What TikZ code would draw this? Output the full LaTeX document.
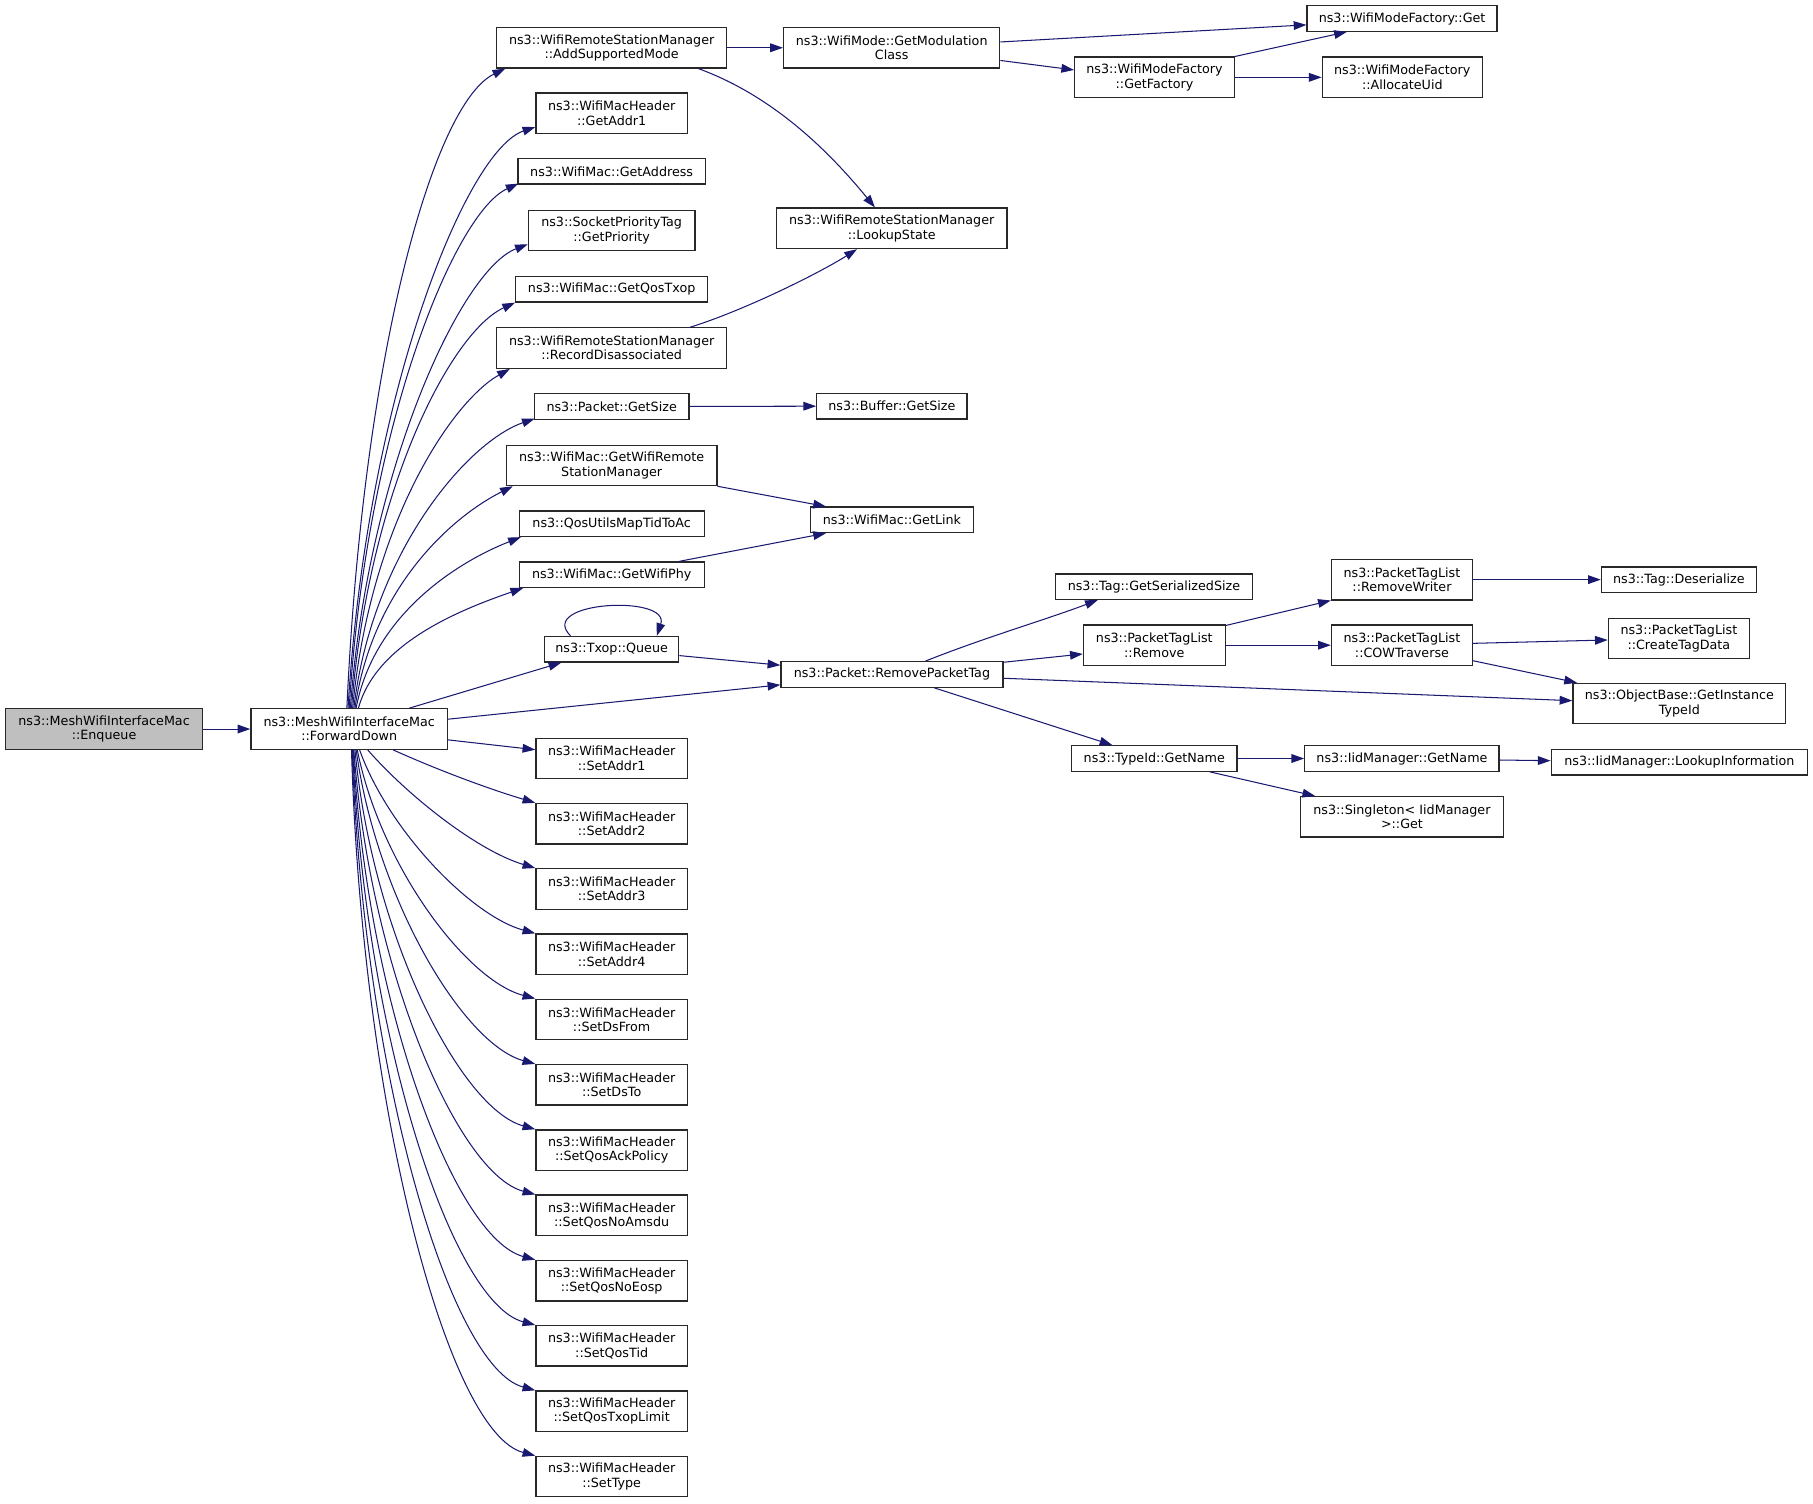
\documentclass[tikz,border=0pt]{standalone}
\usepackage{fontspec}
\setmainfont{DejaVu Sans}
\usetikzlibrary{arrows.meta,calc}
\definecolor{edgec}{RGB}{25,25,112}
\definecolor{nodeb}{RGB}{40,40,40}
\definecolor{nodeg}{RGB}{191,191,191}
\begin{document}
\begin{tikzpicture}[x=1pt,y=-1pt,
  fn/.style={draw=nodeb, line width=1.1pt, fill=white, inner sep=0pt, align=center,
    font=\fontsize{11}{12.4}\selectfont},
  one/.style={fn, minimum height=22pt},
  two/.style={fn, minimum height=35pt},
  e/.style={draw=edgec, line width=0.9pt, -{Triangle[length=11pt,width=7.5pt]}},
]
\useasboundingbox (0,0) rectangle (1568,1300);
% column A/B
\node[two, minimum width=170pt, fill=nodeg] (enq) at (90,630.5) {ns3::MeshWifiInterfaceMac\\::Enqueue};
\node[two, minimum width=170pt] (fwd) at (302,630.5) {ns3::MeshWifiInterfaceMac\\::ForwardDown};
% column C
\node[two, minimum width=199pt] (asm) at (529,41.3) {ns3::WifiRemoteStationManager\\::AddSupportedMode};
\node[two, minimum width=131pt] (ga1) at (529,97.9) {ns3::WifiMacHeader\\::GetAddr1};
\node[one, minimum width=162pt] (gad) at (529,148.2) {ns3::WifiMac::GetAddress};
\node[two, minimum width=144pt] (gpr) at (529,199.3) {ns3::SocketPriorityTag\\::GetPriority};
\node[one, minimum width=166pt] (gqt) at (529,250.2) {ns3::WifiMac::GetQosTxop};
\node[two, minimum width=199pt] (rda) at (529,301) {ns3::WifiRemoteStationManager\\::RecordDisassociated};
\node[one, minimum width=134pt] (pgs) at (529,351.5) {ns3::Packet::GetSize};
\node[two, minimum width=182pt] (gwr) at (529,402.5) {ns3::WifiMac::GetWifiRemote\\StationManager};
\node[one, minimum width=160pt] (qum) at (529,453) {ns3::QosUtilsMapTidToAc};
\node[one, minimum width=160pt] (gwp) at (529,497) {ns3::WifiMac::GetWifiPhy};
\node[one, minimum width=116pt] (txq) at (529,561.5) {ns3::Txop::Queue};
\node[two, minimum width=131pt] (sa1) at (529,655.9) {ns3::WifiMacHeader\\::SetAddr1};
\node[two, minimum width=131pt] (sa2) at (529,712.4) {ns3::WifiMacHeader\\::SetAddr2};
\node[two, minimum width=131pt] (sa3) at (529,768.8) {ns3::WifiMacHeader\\::SetAddr3};
\node[two, minimum width=131pt] (sa4) at (529,825.3) {ns3::WifiMacHeader\\::SetAddr4};
\node[two, minimum width=131pt] (sdf) at (529,881.7) {ns3::WifiMacHeader\\::SetDsFrom};
\node[two, minimum width=131pt] (sdt) at (529,938.2) {ns3::WifiMacHeader\\::SetDsTo};
\node[two, minimum width=131pt] (sqa) at (529,994.7) {ns3::WifiMacHeader\\::SetQosAckPolicy};
\node[two, minimum width=131pt] (sqn) at (529,1051.1) {ns3::WifiMacHeader\\::SetQosNoAmsdu};
\node[two, minimum width=131pt] (sqe) at (529,1107.6) {ns3::WifiMacHeader\\::SetQosNoEosp};
\node[two, minimum width=131pt] (sqt) at (529,1164.0) {ns3::WifiMacHeader\\::SetQosTid};
\node[two, minimum width=131pt] (sql) at (529,1220.5) {ns3::WifiMacHeader\\::SetQosTxopLimit};
\node[two, minimum width=131pt] (sty) at (529,1277.0) {ns3::WifiMacHeader\\::SetType};
% column D
\node[two, minimum width=187pt] (gmc) at (771.2,41.3) {ns3::WifiMode::GetModulation\\Class};
\node[two, minimum width=199.5pt] (lks) at (771.2,197.5) {ns3::WifiRemoteStationManager\\::LookupState};
\node[one, minimum width=130pt] (bgs) at (771.4,351.3) {ns3::Buffer::GetSize};
\node[one, minimum width=141pt] (gli) at (771.4,449.6) {ns3::WifiMac::GetLink};
\node[one, minimum width=192pt] (rpt) at (771.4,583.3) {ns3::Packet::RemovePacketTag};
% column E
\node[two, minimum width=138pt] (gfa) at (998.5,66.9) {ns3::WifiModeFactory\\::GetFactory};
\node[one, minimum width=170pt] (tgs) at (998,507.4) {ns3::Tag::GetSerializedSize};
\node[two, minimum width=122.6pt] (ptr) at (998.3,558) {ns3::PacketTagList\\::Remove};
\node[one, minimum width=143pt] (tgn) at (998.3,656) {ns3::TypeId::GetName};
% column F
\node[one, minimum width=164.4pt] (wmg) at (1212.6,16) {ns3::WifiModeFactory::Get};
\node[two, minimum width=138.4pt] (wau) at (1212.8,66.9) {ns3::WifiModeFactory\\::AllocateUid};
\node[two, minimum width=122pt] (prw) at (1212.5,501.3) {ns3::PacketTagList\\::RemoveWriter};
\node[two, minimum width=122pt] (pcw) at (1212.5,558) {ns3::PacketTagList\\::COWTraverse};
\node[one, minimum width=168pt] (igm) at (1212.5,656) {ns3::IidManager::GetName};
\node[two, minimum width=175pt] (sgt) at (1212.5,706.5) {ns3::Singleton< IidManager\\>::Get};
% column G
\node[one, minimum width=134pt] (tde) at (1452,501.3) {ns3::Tag::Deserialize};
\node[two, minimum width=122pt] (ctd) at (1452,552.3) {ns3::PacketTagList\\::CreateTagData};
\node[two, minimum width=184pt] (obg) at (1452.4,608.5) {ns3::ObjectBase::GetInstance\\TypeId};
\node[one, minimum width=221.6pt] (ilk) at (1452.4,659.3) {ns3::IidManager::LookupInformation};

% edges
\draw[e] (enq.east) -- (fwd.west);
% upper fan
\draw[e] ($(fwd.north)+(-2,0)$) .. controls +(14,-307) and +(-62,30) .. ($(asm.south west)+(8,0)$);
\draw[e] ($(fwd.north)+(-1,0)$) .. controls +(16,-270) and +(-60,20) .. ($(ga1.west)+(0,12)$);
\draw[e] ($(fwd.north)+(0,0)$) .. controls +(15,-245) and +(-55,25) .. ($(gad.south west)+(1,-1)$);
\draw[e] ($(fwd.north)+(1,0)$) .. controls +(15,-205) and +(-58,22) .. ($(gpr.west)+(0,12)$);
\draw[e] ($(fwd.north)+(2,0)$) .. controls +(15,-190) and +(-55,25) .. ($(gqt.south west)+(0,0)$);
\draw[e] ($(fwd.north)+(3,0)$) .. controls +(15,-160) and +(-50,28) .. ($(rda.south west)+(12,0)$);
\draw[e] ($(fwd.north)+(4,0)$) .. controls +(16,-135) and +(-58,20) .. ($(pgs.south west)+(1,-1)$);
\draw[e] ($(fwd.north)+(5,0)$) .. controls +(15,-105) and +(-52,26) .. ($(gwr.south west)+(6,0)$);
\draw[e] ($(fwd.north)+(6,0)$) .. controls +(15,-80) and +(-56,22) .. ($(qum.south west)+(2,0)$);
\draw[e] ($(fwd.north)+(8,0)$) .. controls +(15,-55) and +(-58,20) .. ($(gwp.south west)+(4,0)$);
\draw[e] ($(fwd.north)+(52,0)$) -- ($(txq.south west)+(15,0)$);
\draw[e] ($(fwd.east)+(0,-8.5)$) -- ($(rpt.west)+(0,9)$);
% lower fan
\draw[e] ($(fwd.east)+(0,9.4)$) -- ($(sa1.west)+(0,-7.5)$);
\draw[e] ($(fwd.south)+(38,0)$) .. controls +(40,18) and +(-40,-12) .. (sa2.north west);
\draw[e] ($(fwd.south)+(16,0)$) .. controls +(35,40) and +(-50,-15) .. (sa3.north west);
\draw[e] ($(fwd.south)+(9,0)$) .. controls +(25,70) and +(-55,-15) .. (sa4.north west);
\draw[e] ($(fwd.south)+(7,0)$) .. controls +(20,100) and +(-60,-16) .. (sdf.north west);
\draw[e] ($(fwd.south)+(6,0)$) .. controls +(18,130) and +(-62,-17) .. (sdt.north west);
\draw[e] ($(fwd.south)+(5,0)$) .. controls +(15,160) and +(-65,-18) .. (sqa.north west);
\draw[e] ($(fwd.south)+(4,0)$) .. controls +(14,190) and +(-67,-18) .. (sqn.north west);
\draw[e] ($(fwd.south)+(3.5,0)$) .. controls +(12,220) and +(-70,-19) .. (sqe.north west);
\draw[e] ($(fwd.south)+(3,0)$) .. controls +(11,250) and +(-72,-19) .. (sqt.north west);
\draw[e] ($(fwd.south)+(2.5,0)$) .. controls +(10,280) and +(-74,-20) .. (sql.north west);
\draw[e] ($(fwd.south)+(2,0)$) .. controls +(9,310) and +(-76,-20) .. (sty.north west);
% column C -> D
\draw[e] (asm.east) -- (gmc.west);
\draw[e] ($(asm.south east)+(-25,0)$) .. controls +(60,22) and +(-45,-55) .. ($(lks.north)+(-14.5,0)$);
\draw[e] ($(rda.north east)+(-32,0)$) .. controls +(45,-14) and +(-35,22) .. ($(lks.south)+(-30,0)$);
\draw[e] (pgs.east) -- (bgs.west);
\draw[e] (gwr.south east) -- ($(gli.north west)+(14,0)$);
\draw[e] ($(gwp.north east)+(-22,0)$) -- ($(gli.south west)+(14,0)$);
\draw[e] ($(txq.north west)+(23,0)$) .. controls +(-30,-30) and +(12,-36) .. ($(txq.north east)+(-19.5,0)$);
\draw[e] ($(txq.east)+(0,5.5)$) -- ($(rpt.west)+(0,-8)$);
% column D -> E/F
\draw[e] ($(gmc.east)+(0,-5)$) -- ($(wmg.west)+(0,5.5)$);
\draw[e] ($(gmc.east)+(0,11)$) -- ($(gfa.west)+(0,-6.4)$);
\draw[e] (gfa.north east) -- ($(wmg.south west)+(35,0)$);
\draw[e] (gfa.east) -- (wau.west);
\draw[e] ($(rpt.north)+(29,0)$) .. controls +(50,-20) and +(-45,17) .. ($(tgs.south west)+(37,0)$);
\draw[e] ($(rpt.north east)+(0,1)$) -- ($(ptr.west)+(0,7.6)$);
\draw[e] ($(rpt.east)+(0,3.3)$) -- ($(obg.west)+(0,-2.5)$);
\draw[e] ($(rpt.south)+(36.5,0)$) -- ($(tgn.north west)+(35.8,0)$);
% column E -> F -> G
\draw[e] ($(ptr.north east)+(0,1)$) -- (prw.south west);
\draw[e] (ptr.east) -- (pcw.west);
\draw[e] (prw.east) -- (tde.west);
\draw[e] ($(pcw.east)+(0,-1.6)$) -- ($(ctd.west)+(0,1.2)$);
\draw[e] ($(pcw.south east)+(0,-4.6)$) -- ($(obg.north west)+(4,0)$);
\draw[e] (tgn.east) -- (igm.west);
\draw[e] ($(tgn.south)+(48,0)$) -- ($(sgt.north west)+(13,0)$);
\draw[e] ($(igm.east)+(0,1.3)$) -- ($(ilk.west)+(0,-1.4)$);
\end{tikzpicture}
\end{document}
